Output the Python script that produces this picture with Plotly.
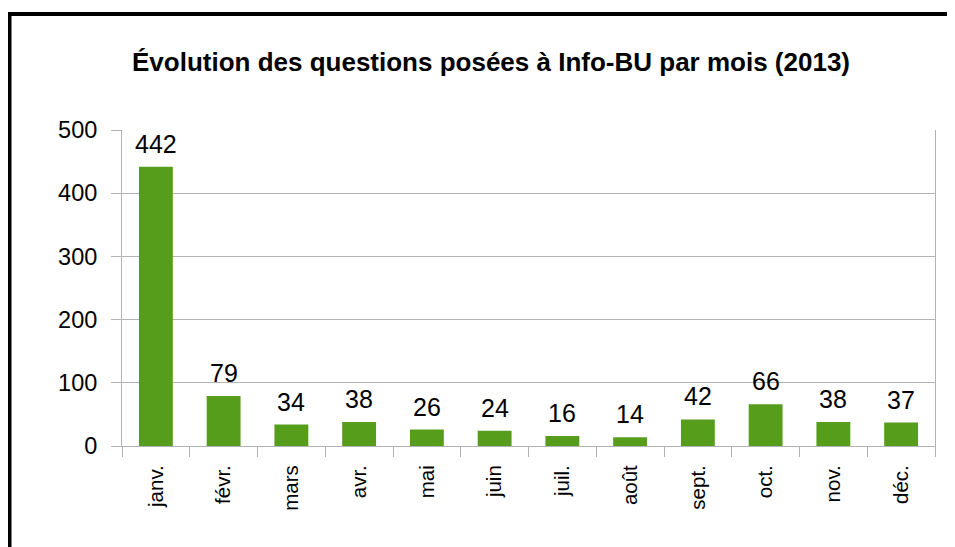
import plotly.graph_objects as go

months = ["janv.", "févr.", "mars", "avr.", "mai", "juin", "juil.", "août", "sept.", "oct.", "nov.", "déc."]
questions = [442, 79, 34, 38, 26, 24, 16, 14, 42, 66, 38, 37]
y_ticks = [0, 100, 200, 300, 400, 500]
title_text = "Évolution des questions posées à Info-BU par mois (2013)"

# page has an 8px body margin; figure coordinates = page coordinates - 8
W, H = 947, 539
L, R, T, B = 114, 20, 122, 101
FONT = "Liberation Sans, Arial, sans-serif"
GRID = "#b3b3b3"

fig = go.Figure()
fig.add_trace(go.Bar(x=months, y=questions, marker=dict(color="#579d1c", line=dict(width=0)),
                     hoverinfo="x+y"))

annotations = []
for m, v in zip(months, questions):
    annotations.append(dict(x=m, y=v, text=str(v), showarrow=False, xref="x", yref="y",
                            yanchor="bottom", yshift=7, font=dict(size=25, color="black", family=FONT)))

pw = W - L - R
ph = H - T - B
def px_x(p):
    return (p - L) / pw
def px_y(p):
    return (H - B - p) / ph

shapes = [
    dict(type="line", xref="paper", yref="paper", x0=px_x(1.5), x1=px_x(1.5), y0=px_y(4), y1=px_y(560),
         line=dict(color="black", width=4)),
    dict(type="line", xref="paper", yref="paper", x0=px_x(-1), x1=px_x(960), y0=px_y(6), y1=px_y(6),
         line=dict(color="black", width=4)),
]

fig.update_layout(
    width=W, height=H,
    margin=dict(l=L, r=R, t=T, b=B),
    paper_bgcolor="white", plot_bgcolor="white",
    showlegend=False,
    bargap=0.5,
    font=dict(family=FONT, size=20, color="black"),
    title=dict(text="<b>" + title_text + "</b>", x=483 / W, xanchor="center", y=1 - 54 / H, yanchor="middle",
               font=dict(size=26, family=FONT, color="black")),
    annotations=annotations,
    shapes=shapes,
    xaxis=dict(showline=True, linecolor=GRID, linewidth=1, tickson="boundaries", ticks="outside",
               ticklen=10, tickcolor=GRID, tickwidth=1, tickangle=-90, showgrid=False,
               tickfont=dict(size=20.5, family=FONT, color="black"), ticklabelstandoff=10),
    yaxis=dict(range=[0, 500], tickvals=y_ticks, showgrid=True, gridcolor=GRID, gridwidth=1,
               showline=True, linecolor=GRID, linewidth=1, mirror=True, ticks="outside", ticklen=10,
               tickcolor=GRID, zeroline=False, tickfont=dict(size=23.5, family=FONT, color="black"),
               ticklabelstandoff=9),
)

fig.write_html("out.html")
